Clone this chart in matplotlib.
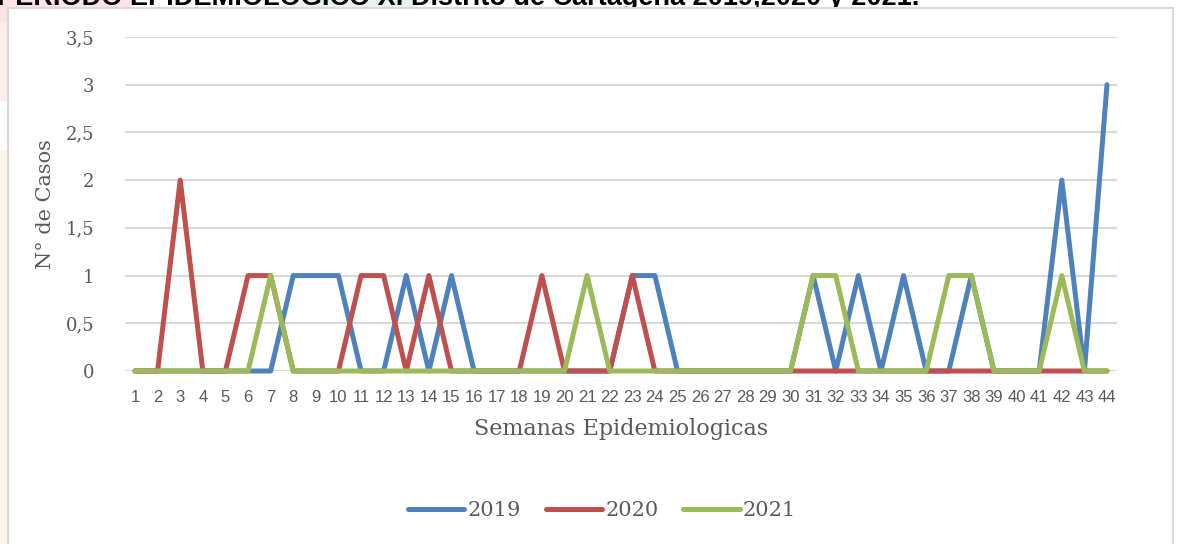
import matplotlib
matplotlib.use("Agg")
import matplotlib.pyplot as plt
from matplotlib.patches import Rectangle
from matplotlib.lines import Line2D
from matplotlib import font_manager

weeks = list(range(1, 45))
s2019 = [0,0,0,0,0,0,0,1,1,1,0,0,1,0,1,0,0,0,0,0,0,0,1,1,0,0,0,0,0,0,1,0,1,0,1,0,0,1,0,0,0,2,0,3]
s2020 = [0,0,2,0,0,1,1,0,0,0,1,1,0,1,0,0,0,0,1,0,0,0,1,0,0,0,0,0,0,0,0,0,0,0,0,0,0,0,0,0,0,0,0,0]
s2021 = [0,0,0,0,0,0,1,0,0,0,0,0,0,0,0,0,0,0,0,0,1,0,0,0,0,0,0,0,0,0,1,1,0,0,0,0,1,1,0,0,0,1,0,0]
series = [("2019", s2019, "#4F81BD"), ("2020", s2020, "#C0504D"), ("2021", s2021, "#9BBB59")]
yticks = [0, 0.5, 1, 1.5, 2, 2.5, 3, 3.5]
ytick_labels = ["0", "0,5", "1", "1,5", "2", "2,5", "3", "3,5"]
title_text = "PERIODO EPIDEMIOLOGICO XI Distrito de Cartagena 2019,2020 y 2021."

names = {f.name for f in font_manager.fontManager.ttflist}
narrow = "Liberation Sans Narrow" if "Liberation Sans Narrow" in names else "Liberation Sans"
serif = "DejaVu Serif"

W, H = 1177, 544
fig = plt.figure(figsize=(W/100, H/100), dpi=100)
fig.patch.set_facecolor("white")

# background outside chart
fig.patches.append(Rectangle((0, 1-100/H), 8/W, 100/H, transform=fig.transFigure, color="#FDEEEE", zorder=0))
fig.patches.append(Rectangle((0, 0), 8/W, (544-150)/H, transform=fig.transFigure, color="#FEF6EC", zorder=0))
fig.patches.append(Rectangle((0, 1-22/H), 130/W, 22/H, transform=fig.transFigure, color="#FCE4E4", zorder=0))
fig.patches.append(Rectangle((290/W, 1-22/H), 123/W, 22/H, transform=fig.transFigure, color="#E8F5E8", zorder=0))
# chart border
fig.patches.append(Rectangle((8/W, -0.01), (1173-8)/W, (H-8)/H + 0.01, transform=fig.transFigure,
                             facecolor="white", edgecolor="#D9D9D9", lw=1.5, zorder=1))
fig.text(-3/W, 1-5/H, title_text, fontsize=19.5, fontweight="bold", family="Liberation Sans",
         ha="left", va="baseline", color="black", zorder=0.5)

L, R = 125/W, 1117/W
B, T = (H-371)/H, (H-37)/H
ax = fig.add_axes([L, B, R-L, T-B])
ax.set_facecolor("none")
ax.set_zorder(2)
sp = 10/22.6
ax.set_xlim(1-sp, 44+sp)
ax.set_ylim(0, 3.5)
for v in yticks:
    ax.axhline(v, color="#D9D9D9", lw=1.5, zorder=1)
for name, vals, col in series:
    ax.plot(weeks, vals, color=col, lw=3.6, solid_joinstyle="round", solid_capstyle="round", zorder=3, clip_on=False)
for s in ax.spines.values():
    s.set_visible(False)
ax.set_yticks(yticks)
ax.set_yticklabels(ytick_labels, fontsize=13, family=serif, color="#595959")
ax.set_xticks(weeks)
ax.set_xticklabels([str(w) for w in weeks], fontsize=12, family=narrow, color="#595959")
ax.tick_params(axis="both", length=0)
ax.tick_params(axis="y", pad=22)
ax.tick_params(axis="x", pad=14)
ax.set_ylabel("N° de Casos", fontsize=15, family=serif, color="#595959", labelpad=8)
ax.set_xlabel("Semanas Epidemiologicas", fontsize=16, family=serif, color="#595959", labelpad=9)

handles = [Line2D([], [], color=c, lw=3.6, solid_capstyle="round") for _, _, c in series]
leg = fig.legend(handles, [n for n, _, _ in series], loc="center", bbox_to_anchor=(602/W, 1-511/H),
                 ncol=3, frameon=False, prop={"family": serif, "size": 15}, handlelength=2.7,
                 handletextpad=0.15, columnspacing=1.2)
for t in leg.get_texts():
    t.set_color("#595959")

fig.savefig("out.png", dpi=100, facecolor=fig.get_facecolor())
